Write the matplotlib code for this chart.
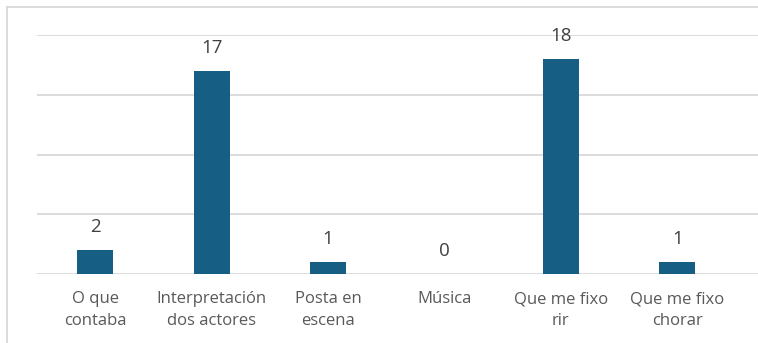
import matplotlib
matplotlib.use("Agg")
import matplotlib.pyplot as plt
from matplotlib.lines import Line2D

categories = ["O que\ncontaba", "Interpretación\ndos actores", "Posta en\nescena",
              "Música", "Que me fixo\nrir", "Que me fixo\nchorar"]
values = [2, 17, 1, 0, 18, 1]
y_ticks = [0, 5, 10, 15, 20]

plt.rcParams['font.family'] = ['Open Sans', 'DejaVu Sans']

W, H = 758, 343
fig = plt.figure(figsize=(W / 100, H / 100), dpi=100)
ax = fig.add_axes([37 / W, 69 / H, (W - 37) / W, 238.8 / H])

bar_color = "#175E84"
x = list(range(len(categories)))
ax.bar(x, values, width=0.31, color=bar_color, zorder=3)

ax.set_ylim(0, 20)
ax.set_xlim(-0.5, -0.5 + (W - 37) / 116.4)
ax.set_yticks(y_ticks)
ax.yaxis.grid(True, color="#D9D9D9", linewidth=1.3, zorder=0)
ax.tick_params(axis="y", left=False, labelleft=False)
ax.tick_params(axis="x", bottom=False, pad=9)
ax.set_xticks(x)
ax.set_xticklabels(categories, fontsize=12, color="#595959", linespacing=1.45)
for s in ax.spines.values():
    s.set_visible(False)
ax.set_facecolor("none")

for xi, v in zip(x, values):
    ax.annotate(str(v), (xi, v), xytext=(0, 16.5), textcoords="offset points",
                ha="center", va="center", fontsize=13.5, color="#404040")

# chart border (partially visible)
fig.add_artist(Line2D([6.5 / W, 6.5 / W], [0, 1 - 7 / H], transform=fig.transFigure,
                      color="#D9D9D9", linewidth=1.3))
fig.add_artist(Line2D([6.5 / W, 1], [1 - 7 / H, 1 - 7 / H], transform=fig.transFigure,
                      color="#D9D9D9", linewidth=1.3))

fig.savefig("out.png", dpi=100)
